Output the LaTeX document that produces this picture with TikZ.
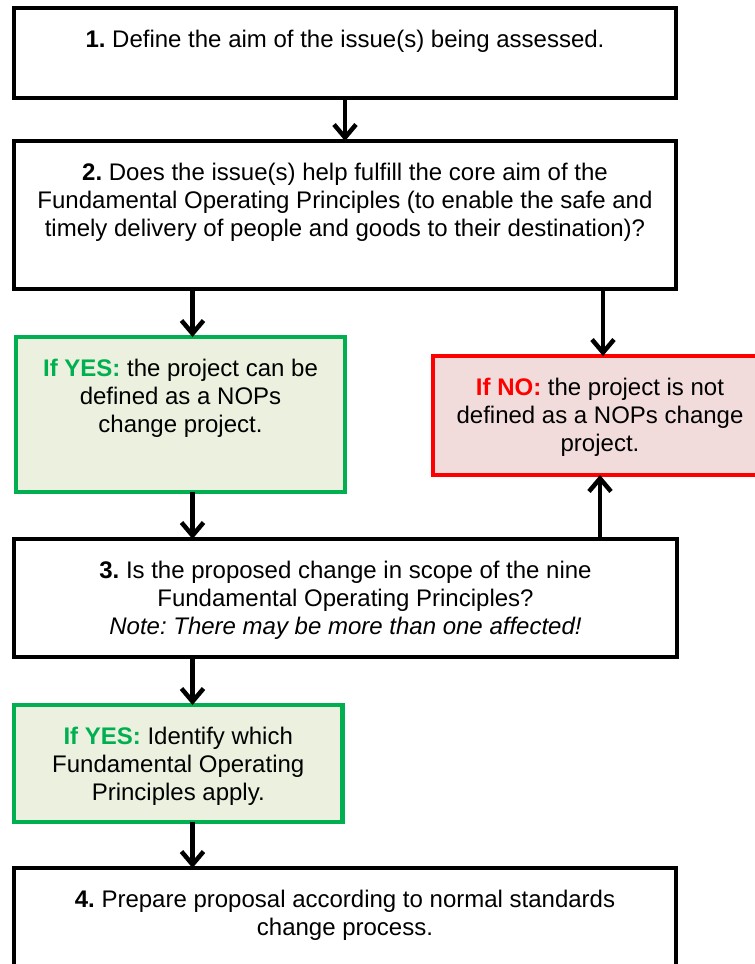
\documentclass[tikz,border=0pt]{standalone}
\usepackage{fontspec}
\setmainfont{Liberation Sans}
\usetikzlibrary{arrows.meta,calc}
\definecolor{grn}{HTML}{00B050}
\definecolor{grnfill}{HTML}{EBF1DE}
\definecolor{rd}{HTML}{FF0000}
\definecolor{rdfill}{HTML}{F2DCDB}
\frenchspacing
\newcommand\bxtext[3]{\parbox[c][#2pt][t]{#1pt}{\centering\frenchspacing\rule{0pt}{39pt}#3}}
\begin{document}
\begin{tikzpicture}[x=1pt,y=-1pt,
  every node/.style={font=\fontsize{24}{28}\selectfont},
  blackbox/.style={draw=black, line width=4.5pt, fill=white, inner sep=0pt, outer sep=0pt},
  yesbox/.style={draw=grn, fill=grnfill, line width=4.5pt, inner sep=0pt, outer sep=0pt},
  nobox/.style={draw=rd, fill=rdfill, line width=4.5pt, inner sep=0pt, outer sep=0pt},
  arr/.style={line width=4.5pt, -{Straight Barb[length=13pt,width=22pt]}}]
\useasboundingbox (0,0) rectangle (755,964);
\clip (0,0) rectangle (755,964);
\fill[white] (0,0) rectangle (755,964);

\node[blackbox] (b1) at (345,53) {\bxtext{662}{90}{\textbf{1.} Define the aim of the issue(s) being assessed.}};
\node[blackbox] (b2) at (345,215) {\bxtext{662}{148}{\textbf{2.} Does the issue(s) help fulfill the core aim of the\\ Fundamental Operating Principles (to enable the safe and\\ timely delivery of people and goods to their destination)?}};
\node[yesbox] (g1) at (180.5,414.5) {\bxtext{329}{155}{{\color{grn}\textbf{If YES:}} the project can be\\ defined as a NOPs\\ change project.}};
\node[nobox] (r1) at (600,415.5) {\bxtext{334}{119}{{\color{rd}\textbf{If NO:}} the project is not\\ defined as a NOPs change\\ project.}};
\node[blackbox] (b3) at (345.5,598) {\bxtext{663}{118}{\textbf{3.} Is the proposed change in scope of the nine\\ Fundamental Operating Principles?\\ \textit{Note: There may be more than one affected!}}};
\node[yesbox] (g2) at (178.25,763.5) {\bxtext{328.5}{117}{{\color{grn}\textbf{If YES:}} Identify which\\ Fundamental Operating\\ Principles apply.}};
\node[blackbox] (b4) at (345,928) {\bxtext{662}{120}{\textbf{4.} Prepare proposal according to normal standards\\ change process.}};

\coordinate (xl) at (192.5,0);
\coordinate (xr) at (603,0);
\coordinate (xr2) at (600,0);

\draw[arr] (b1.south) -- (b2.north);
\draw[arr] (b2.south -| xl) -- (g1.north -| xl);
\draw[arr] (b2.south -| xr) -- (r1.north -| xr);
\draw[arr] (g1.south -| xl) -- (b3.north -| xl);
\draw[arr] (b3.north -| xr2) -- (r1.south -| xr2);
\draw[arr] (b3.south -| xl) -- (g2.north -| xl);
\draw[arr] (g2.south -| xl) -- (b4.north -| xl);
\end{tikzpicture}
\end{document}
